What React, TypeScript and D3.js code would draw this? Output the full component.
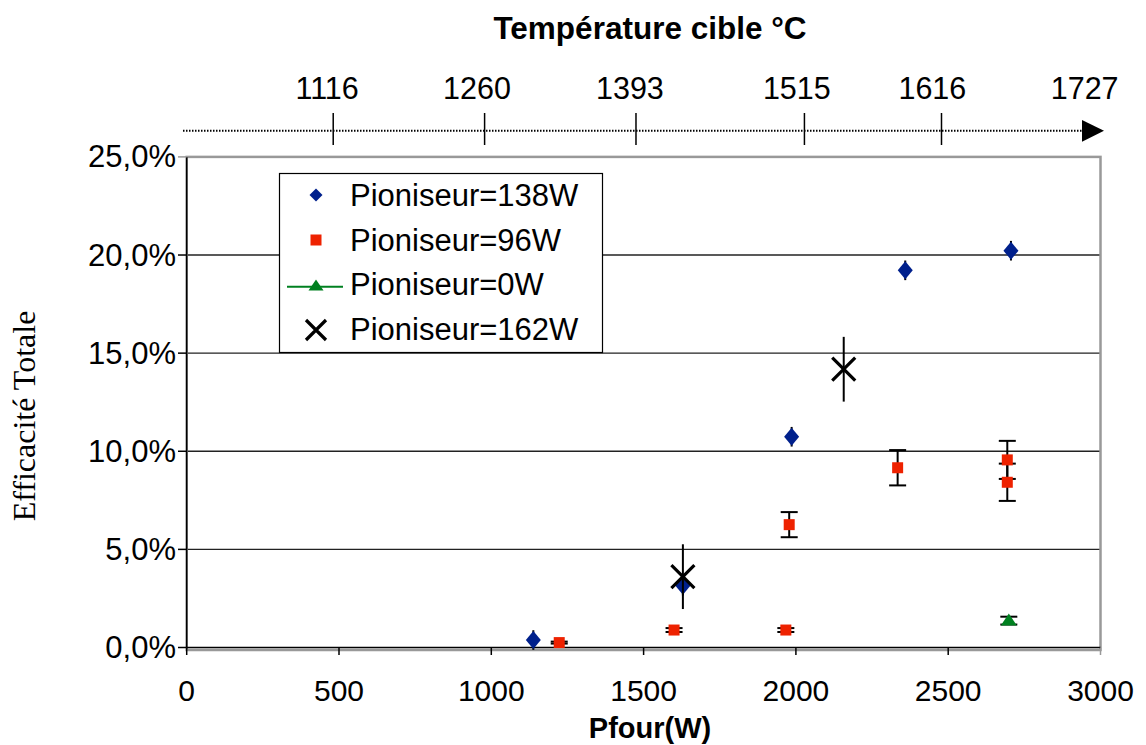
import React from "react";
import * as d3 from "d3";

// ---- data ----
const xTicks = [0, 500, 1000, 1500, 2000, 2500, 3000];
const yTicks = [0, 5, 10, 15, 20, 25];
const topTickPos = [481, 978, 1475, 2028, 2478];
const topLabels = ["1116", "1260", "1393", "1515", "1616", "1727"];
const topLabelPos = [461, 953, 1455, 2003, 2448, 2948];

const series138P = [1138, 1629, 1986, 2359, 2706];
const series138E = [0.38, 3.15, 10.74, 19.22, 20.22];
const series138Err = [0.5, 0.5, 0.5, 0.5, 0.5];

const series96P = [1223, 1600, 1967, 1978, 2334, 2694, 2694];
const series96E = [0.25, 0.89, 0.89, 6.26, 9.16, 9.56, 8.42];
const series96Err = [0.05, 0.1, 0.1, 0.64, 0.9, 0.97, 0.95];

const series0P = [2699];
const series0E = [1.37];
const series0Err = [0.2];

const series162P = [1629, 2157];
const series162E = [3.61, 14.18];
const series162Err = [1.65, 1.65];

const legendLabels = ["Pioniseur=138W", "Pioniseur=96W", "Pioniseur=0W", "Pioniseur=162W"];

const BLUE = "#00208c";
const RED = "#ee2200";
const GREEN = "#008020";
const SANS = "'Liberation Sans', Arial, sans-serif";

const diamond = (cx: number, cy: number, w = 7.5, h = 9) =>
  `M${cx},${cy - h}L${cx + w},${cy}L${cx},${cy + h}L${cx - w},${cy}Z`;
const triangle = (cx: number, cy: number, w = 8, h = 12) =>
  `M${cx},${cy - h * 0.6}L${cx + w},${cy + h * 0.4}L${cx - w},${cy + h * 0.4}Z`;
const cross = (cx: number, cy: number, s = 11.5) =>
  `M${cx - s},${cy - s}L${cx + s},${cy + s}M${cx - s},${cy + s}L${cx + s},${cy - s}`;

export default function App() {
  const x = d3.scaleLinear().domain([0, 3000]).range([186.7, 1100.5]);
  const y = d3.scaleLinear().domain([0, 25]).range([647.5, 156.9]);
  const fmt = (v: number) => v.toFixed(1).replace(".", ",") + "%";

  return (
    <svg
      width={1146}
      height={745}
      style={{ position: "absolute", left: 0, top: 0, background: "#fff" }}
    >
      {/* Top title */}
      <text x={650} y={39} textAnchor="middle" fontFamily={SANS} fontWeight="bold" fontSize={31.5}>
        Température cible °C
      </text>
      {/* Top temperature axis */}
      <line x1={183} x2={1083} y1={130.7} y2={130.7} stroke="#000" strokeWidth={2} strokeDasharray="1.5,1.5" />
      <path d="M1082,120L1104,130.8L1082,141.7Z" fill="#000" />
      {topTickPos.map((p, i) => (
        <line key={"tt" + i} x1={x(p)} x2={x(p)} y1={113} y2={145} stroke="#000" strokeWidth={1.5} />
      ))}
      {topLabels.map((l, i) => (
        <text key={"tl" + i} x={x(topLabelPos[i])} y={99} textAnchor="middle" fontFamily={SANS} fontSize={30.5}>
          {l}
        </text>
      ))}

      {/* Gridlines */}
      {yTicks.filter((t) => t > 0 && t < 25).map((t) => (
        <line key={"g" + t} x1={x(0)} x2={x(3000)} y1={y(t)} y2={y(t)} stroke="#222" strokeWidth={1.4} />
      ))}
      {/* Frame */}
      <rect x={x(0)} y={y(25)} width={x(3000) - x(0)} height={650 - y(25)} fill="none" stroke="#999" strokeWidth={2.5} />
      {/* axes */}
      <line x1={x(0)} x2={x(0)} y1={y(25)} y2={y(0)} stroke="#000" strokeWidth={1.5} />
      <line x1={x(0)} x2={x(3000)} y1={y(0)} y2={y(0)} stroke="#000" strokeWidth={1.5} />
      {yTicks.map((t) => (
        <g key={"yt" + t}>
          <line x1={178} x2={x(0)} y1={y(t)} y2={y(t)} stroke={t === 25 ? "#999" : "#000"} strokeWidth={1.5} />
          <text x={176} y={y(t) + 10.5} textAnchor="end" fontFamily={SANS} fontSize={31}>
            {fmt(t)}
          </text>
        </g>
      ))}
      {xTicks.map((t) => (
        <g key={"xt" + t}>
          <line x1={x(t)} x2={x(t)} y1={y(0)} y2={655} stroke={t === 3000 ? "#999" : "#000"} strokeWidth={1.5} />
          <text x={x(t)} y={701} textAnchor="middle" fontFamily={SANS} fontSize={30}>
            {t}
          </text>
        </g>
      ))}
      <text x={650} y={738} textAnchor="middle" fontFamily={SANS} fontWeight="bold" fontSize={29}>
        Pfour(W)
      </text>
      <text
        transform={`translate(35,416) rotate(-90)`}
        textAnchor="middle"
        fontFamily="'Liberation Serif', 'Times New Roman', serif"
        fontSize={32}
      >
        Efficacité Totale
      </text>

      {/* Series 138W */}
      {series138P.map((p, i) => (
        <g key={"b" + i}>
          <line x1={x(p)} x2={x(p)} y1={y(series138E[i] - series138Err[i])} y2={y(series138E[i] + series138Err[i])} stroke="#000" strokeWidth={2} />
          <path d={diamond(x(p), y(series138E[i]))} fill={BLUE} />
        </g>
      ))}
      {/* Series 96W */}
      {series96P.map((p, i) => {
        const lo = y(series96E[i] - series96Err[i]);
        const hi = y(series96E[i] + series96Err[i]);
        const cx = x(p);
        return (
          <g key={"r" + i}>
            <line x1={cx} x2={cx} y1={lo} y2={hi} stroke="#000" strokeWidth={2} />
            <line x1={cx - 8.5} x2={cx + 8.5} y1={lo} y2={lo} stroke="#000" strokeWidth={2} />
            <line x1={cx - 8.5} x2={cx + 8.5} y1={hi} y2={hi} stroke="#000" strokeWidth={2} />
          </g>
        );
      })}
      {series96P.map((p, i) => (
        <rect key={"rs" + i} x={x(p) - 5.5} y={y(series96E[i]) - 5.5} width={11} height={11} fill={RED} />
      ))}
      {/* Series 0W */}
      {series0P.map((p, i) => {
        const lo = y(series0E[i] - series0Err[i]);
        const hi = y(series0E[i] + series0Err[i]);
        const cx = x(p);
        return (
          <g key={"gr" + i}>
            <line x1={cx - 8.5} x2={cx + 8.5} y1={lo} y2={lo} stroke="#000" strokeWidth={2} />
            <line x1={cx - 8.5} x2={cx + 8.5} y1={hi} y2={hi} stroke="#000" strokeWidth={2} />
            <path d={triangle(cx, y(series0E[i]))} fill={GREEN} />
          </g>
        );
      })}
      {/* Series 162W */}
      {series162P.map((p, i) => (
        <g key={"k" + i}>
          <line x1={x(p)} x2={x(p)} y1={y(series162E[i] - series162Err[i])} y2={y(series162E[i] + series162Err[i])} stroke="#000" strokeWidth={2} />
          <path d={cross(x(p), y(series162E[i]))} stroke="#000" strokeWidth={3.2} fill="none" />
        </g>
      ))}

      {/* Legend */}
      <rect x={279.5} y={173.5} width={323} height={179} fill="#fff" stroke="#000" strokeWidth={1.2} />
      <path d={diamond(316, 195, 6.5, 6.5)} fill={BLUE} />
      <rect x={310.5} y={234.5} width={11} height={11} fill={RED} />
      <line x1={287} x2={343} y1={286.7} y2={286.7} stroke={GREEN} strokeWidth={2} />
      <path d={triangle(316, 286, 7.5, 11)} fill={GREEN} />
      <path d={cross(316, 330, 10)} stroke="#000" strokeWidth={3.2} fill="none" />
      {legendLabels.map((l, i) => (
        <text key={"lg" + i} x={350} y={206 + i * 44.7} fontFamily={SANS} fontSize={31}>
          {l}
        </text>
      ))}
    </svg>
  );
}
